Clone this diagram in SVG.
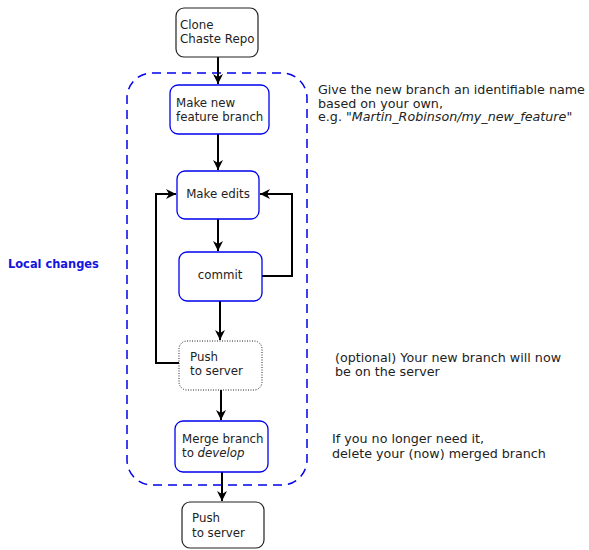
<svg xmlns="http://www.w3.org/2000/svg" width="589" height="550" viewBox="0 0 589 550">
<style>
text{font-family:"DejaVu Sans",sans-serif;font-size:11.8px;fill:#222}
.n{font-size:12.7px}
.b{fill:#fff;stroke:#0000ee;stroke-width:1.3}
.k{fill:#fff;stroke:#222;stroke-width:1.2}
.d{fill:#fff;stroke:#222;stroke-width:1;stroke-dasharray:1 1.5}
.c{fill:none;stroke:#000;stroke-width:2}
.lab{font-family:"DejaVu Sans Condensed","DejaVu Sans",sans-serif;font-weight:bold;fill:#1515e0;font-size:12.7px}
</style>
<defs>
<marker id="ah" viewBox="0 0 10 10" refX="10" refY="5" markerWidth="5" markerHeight="5" orient="auto" markerUnits="strokeWidth">
<path d="M0,0 L10,5 L0,10 L3,5 z" fill="#000"/>
</marker>
</defs>
<g id="region">
<rect x="127" y="73" width="180" height="412" rx="25" ry="25" fill="none" stroke="#0000ee" stroke-width="1.5" stroke-dasharray="9 6"/>
<text class="lab" x="8" y="268">Local changes</text>
</g>
<g id="connectors">
<path class="c" d="M218,57 V84" marker-end="url(#ah)"/>
<path class="c" d="M218,134 V170" marker-end="url(#ah)"/>
<path class="c" d="M218,219 V251" marker-end="url(#ah)"/>
<path class="c" d="M220,301 V340" marker-end="url(#ah)"/>
<path class="c" d="M221,390 V420" marker-end="url(#ah)"/>
<path class="c" d="M222,472 V501" marker-end="url(#ah)"/>
<path class="c" d="M262,276 H292 V194 H260" marker-end="url(#ah)"/>
<path class="c" d="M179,363 H156 V194 H176" marker-end="url(#ah)"/>
</g>
<g id="clone">
<rect class="k" x="176" y="8" width="82" height="49" rx="8"/>
<text x="180" y="29">Clone</text>
<text x="180" y="43">Chaste Repo</text>
</g>
<g id="newbranch">
<rect class="b" x="170" y="85" width="99" height="49" rx="8"/>
<text x="176" y="107">Make new</text>
<text x="176" y="121">feature branch</text>
</g>
<g id="edits">
<rect class="b" x="177" y="171" width="82" height="48" rx="8"/>
<text x="218" y="198" text-anchor="middle">Make edits</text>
</g>
<g id="commit">
<rect class="b" x="179" y="252" width="83" height="49" rx="8"/>
<text x="220" y="279" text-anchor="middle">commit</text>
</g>
<g id="push1">
<rect class="d" x="179" y="341" width="83" height="49" rx="8"/>
<text x="190" y="361">Push</text>
<text x="190" y="375">to server</text>
</g>
<g id="merge">
<rect class="b" x="175" y="421" width="93" height="51" rx="8"/>
<text x="182" y="443">Merge branch</text>
<text x="182" y="457">to <tspan font-style="italic">develop</tspan></text>
</g>
<g id="push2">
<rect class="k" x="182" y="502" width="82" height="46" rx="8"/>
<text x="192" y="522">Push</text>
<text x="192" y="537">to server</text>
</g>
<g id="notes" class="n">
<text class="n" x="318" y="94">Give the new branch an identifiable name</text>
<text class="n" x="318" y="107.5">based on your own,</text>
<text class="n" x="318" y="121">e.g. "<tspan font-style="italic">Martin_Robinson/my_new_feature</tspan>"</text>
<text class="n" x="335" y="362">(optional) Your new branch will now</text>
<text class="n" x="335" y="376">be on the server</text>
<text class="n" x="332" y="443">If you no longer need it,</text>
<text class="n" x="332" y="458">delete your (now) merged branch</text>
</g>
</svg>
